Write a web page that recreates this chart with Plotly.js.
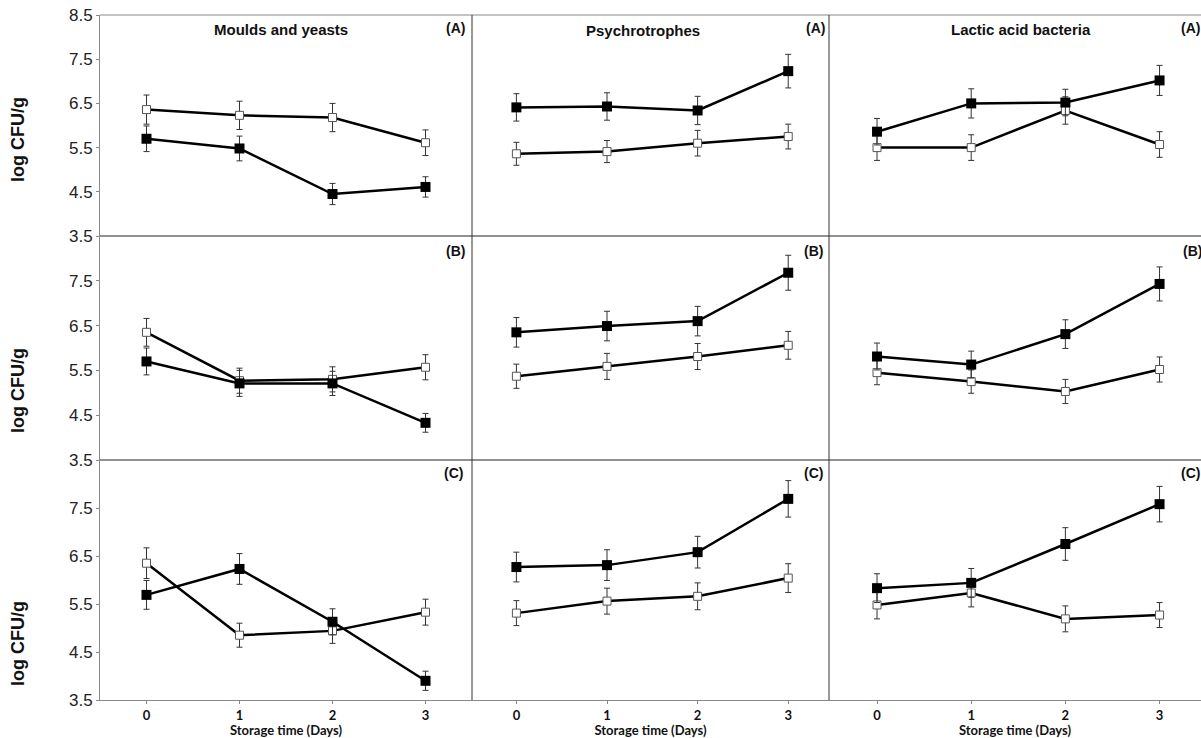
<!DOCTYPE html>
<html>
<head>
<meta charset="utf-8">
<script src="https://cdn.plot.ly/plotly-3.0.1.min.js"></script>
<style>html,body{margin:0;padding:0;background:#fff;}#chart{width:1201px;height:738px;}</style>
</head>
<body>
<div id="chart"></div>
<script>
// ---- data ----
const days = [0, 1, 2, 3];
const dayLabels = ['0', '1', '2', '3'];
const organisms = ['Moulds and yeasts', 'Psychrotrophes', 'Lactic acid bacteria'];
const rowLabels = ['(A)', '(B)', '(C)'];
const yTickValsTop = [3.5, 4.5, 5.5, 6.5, 7.5, 8.5];
const yTickVals = [3.5, 4.5, 5.5, 6.5, 7.5];

// Row A
const mouldsA_filled = [5.70, 5.48, 4.45, 4.61];
const mouldsA_filled_err = [0.29, 0.28, 0.24, 0.23];
const mouldsA_open = [6.36, 6.23, 6.18, 5.61];
const mouldsA_open_err = [0.33, 0.32, 0.32, 0.29];
const psychroA_filled = [6.41, 6.43, 6.34, 7.23];
const psychroA_filled_err = [0.31, 0.31, 0.32, 0.38];
const psychroA_open = [5.36, 5.41, 5.60, 5.75];
const psychroA_open_err = [0.26, 0.25, 0.29, 0.28];
const lacticA_filled = [5.86, 6.50, 6.52, 7.02];
const lacticA_filled_err = [0.30, 0.33, 0.30, 0.34];
const lacticA_open = [5.50, 5.50, 6.34, 5.57];
const lacticA_open_err = [0.29, 0.29, 0.31, 0.29];

// Row B
const mouldsB_filled = [5.70, 5.21, 5.21, 4.33];
const mouldsB_filled_err = [0.30, 0.29, 0.27, 0.21];
const mouldsB_open = [6.35, 5.27, 5.30, 5.57];
const mouldsB_open_err = [0.31, 0.28, 0.28, 0.28];
const psychroB_filled = [6.35, 6.49, 6.60, 7.68];
const psychroB_filled_err = [0.33, 0.33, 0.33, 0.39];
const psychroB_open = [5.37, 5.59, 5.81, 6.06];
const psychroB_open_err = [0.27, 0.29, 0.29, 0.31];
const lacticB_filled = [5.81, 5.63, 6.31, 7.43];
const lacticB_filled_err = [0.30, 0.30, 0.32, 0.38];
const lacticB_open = [5.45, 5.25, 5.03, 5.52];
const lacticB_open_err = [0.27, 0.26, 0.27, 0.28];

// Row C
const mouldsC_filled = [5.69, 6.23, 5.13, 3.90];
const mouldsC_filled_err = [0.30, 0.32, 0.27, 0.20];
const mouldsC_open = [6.35, 4.85, 4.94, 5.33];
const mouldsC_open_err = [0.32, 0.25, 0.26, 0.27];
const psychroC_filled = [6.27, 6.31, 6.58, 7.69];
const psychroC_filled_err = [0.31, 0.32, 0.33, 0.38];
const psychroC_open = [5.31, 5.56, 5.66, 6.04];
const psychroC_open_err = [0.26, 0.27, 0.28, 0.30];
const lacticC_filled = [5.83, 5.94, 6.75, 7.58];
const lacticC_filled_err = [0.30, 0.30, 0.34, 0.37];
const lacticC_open = [5.48, 5.73, 5.19, 5.27];
const lacticC_open_err = [0.29, 0.29, 0.27, 0.26];

const panels = [
  [[mouldsA_filled, mouldsA_filled_err, mouldsA_open, mouldsA_open_err],
   [psychroA_filled, psychroA_filled_err, psychroA_open, psychroA_open_err],
   [lacticA_filled, lacticA_filled_err, lacticA_open, lacticA_open_err]],
  [[mouldsB_filled, mouldsB_filled_err, mouldsB_open, mouldsB_open_err],
   [psychroB_filled, psychroB_filled_err, psychroB_open, psychroB_open_err],
   [lacticB_filled, lacticB_filled_err, lacticB_open, lacticB_open_err]],
  [[mouldsC_filled, mouldsC_filled_err, mouldsC_open, mouldsC_open_err],
   [psychroC_filled, psychroC_filled_err, psychroC_open, psychroC_open_err],
   [lacticC_filled, lacticC_filled_err, lacticC_open, lacticC_open_err]]
];

// ---- geometry (pixels) ----
const W = 1201, H = 738;
const px = v => v / W;
const py = v => 1 - v / H;
const colEdges = [[100, 472], [472, 829], [829, 1201]];
const colRanges = [[-0.5, 3.5], [-0.49, 3.45], [-0.51, 3.44]];
const rowEdges = [[15, 236], [236, 460], [460, 700]];
const SANS = 'Liberation Sans, Arial, sans-serif';
const CAL = 'Lato, Open Sans, sans-serif';

const traces = [];
const layout = {
  width: W, height: H,
  margin: {l: 0, r: 0, t: 0, b: 0},
  paper_bgcolor: '#fff', plot_bgcolor: 'rgba(0,0,0,0)',
  showlegend: false,
  font: {family: SANS, color: '#111'},
  shapes: [], annotations: []
};

for (let r = 0; r < 3; r++) {
  for (let c = 0; c < 3; c++) {
    const idx = r * 3 + c + 1;
    const xa = 'x' + (idx === 1 ? '' : idx);
    const ya = 'y' + (idx === 1 ? '' : idx);
    const xk = 'xaxis' + (idx === 1 ? '' : idx);
    const yk = 'yaxis' + (idx === 1 ? '' : idx);
    const [filled, fErr, open, oErr] = panels[r][c];

    traces.push({
      x: days, y: open, xaxis: xa, yaxis: ya, type: 'scatter', mode: 'lines+markers',
      line: {color: '#000', width: 2.5},
      marker: {symbol: 'square', size: 8, color: '#fff', line: {color: '#555', width: 1}},
      error_y: {type: 'data', array: oErr, visible: true, color: '#333', thickness: 1, width: 3},
      cliponaxis: false
    });
    traces.push({
      x: days, y: filled, xaxis: xa, yaxis: ya, type: 'scatter', mode: 'lines+markers',
      line: {color: '#000', width: 2.5},
      marker: {symbol: 'square', size: 10, color: '#000'},
      error_y: {type: 'data', array: fErr, visible: true, color: '#333', thickness: 1, width: 3},
      cliponaxis: false
    });

    const isBottom = r === 2;
    layout[xk] = {
      domain: [px(colEdges[c][0]), px(colEdges[c][1])],
      range: colRanges[c], anchor: ya,
      showgrid: false, zeroline: false,
      showline: isBottom, linecolor: '#888', linewidth: 1,
      showticklabels: isBottom, ticks: isBottom ? 'outside' : '', ticklen: 3, tickcolor: '#888',
      tickvals: days, ticktext: dayLabels,
      tickfont: {family: CAL, size: 13, color: '#111', weight: 'bold'},
      fixedrange: true
    };
    if (isBottom) {
      layout[xk].title = {text: '<b>Storage time (Days)</b>', standoff: 2,
        font: {family: CAL, size: 13, color: '#111'}};
    }
    const isLeft = c === 0;
    const tv = r === 0 ? yTickValsTop : yTickVals;
    layout[yk] = {
      domain: [py(rowEdges[r][1]), py(rowEdges[r][0])],
      range: [3.5, 8.5], anchor: xa,
      showgrid: false, zeroline: false,
      showline: isLeft, linecolor: '#888', linewidth: 1,
      showticklabels: isLeft, ticks: isLeft ? 'outside' : '', ticklen: 3, tickcolor: '#888',
      tickvals: tv, ticktext: tv.map(v => v.toFixed(1)),
      tickfont: {family: SANS, size: 17, color: '#222'},
      fixedrange: true
    };
  }
}

// separators and frame
const sh = (x0, y0, x1, y1, color) => ({type: 'line', xref: 'paper', yref: 'paper',
  x0: px(x0), y0: py(y0), x1: px(x1), y1: py(y1), line: {color: color, width: 1}});
layout.shapes.push(sh(100, 15, 1201, 15, '#888'));
layout.shapes.push(sh(100, 236, 1201, 236, '#222'));
layout.shapes.push(sh(100, 460, 1201, 460, '#222'));
layout.shapes.push(sh(472, 15, 472, 700, '#333'));
layout.shapes.push(sh(829, 15, 829, 700, '#333'));

// panel titles
const titlePos = [[281, 29], [643, 30], [1021, 29]];
organisms.forEach((t, i) => {
  layout.annotations.push({xref: 'paper', yref: 'paper', x: px(titlePos[i][0]), y: py(titlePos[i][1]),
    xanchor: 'center', yanchor: 'middle', showarrow: false, text: '<b>' + t + '</b>',
    font: {family: SANS, size: 15, color: '#111'}});
});
// row labels
const labelX = [[455, 815, 1190], [455, 813, 1192], [453, 813, 1190]];
const labelY = [28, 251, 473];
for (let r = 0; r < 3; r++) {
  for (let c = 0; c < 3; c++) {
    layout.annotations.push({xref: 'paper', yref: 'paper', x: px(labelX[r][c]), y: py(labelY[r]),
      xanchor: 'center', yanchor: 'middle', showarrow: false, text: '<b>' + rowLabels[r] + '</b>',
      font: {family: SANS, size: 14, color: '#111'}});
  }
}
// y titles
const yTitleY = [140, 391, 644];
yTitleY.forEach(y => {
  layout.annotations.push({xref: 'paper', yref: 'paper', x: px(18), y: py(y),
    xanchor: 'center', yanchor: 'middle', showarrow: false, textangle: -90,
    text: '<b>log CFU/g</b>',
    font: {family: SANS, size: 18, color: '#111'}});
});

Plotly.newPlot('chart', traces, layout, {staticPlot: true, displayModeBar: false});
</script>
</body>
</html>
